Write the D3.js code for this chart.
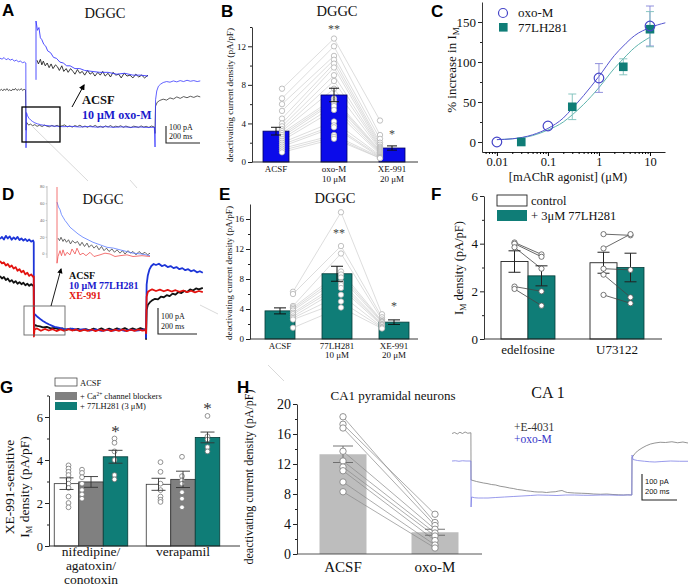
<!DOCTYPE html>
<html><head><meta charset="utf-8">
<script src="https://cdn.jsdelivr.net/npm/d3@7"></script>
<style>
body{margin:0;background:#fff}
svg{display:block}
text{font-family:"Liberation Serif","Times New Roman",serif;fill:#111}
.plabel{font-family:"Liberation Sans",Arial,sans-serif;font-weight:bold;font-size:17px;fill:#000}
.sans{font-family:"Liberation Sans",Arial,sans-serif}
</style></head><body>
<svg id="fig" width="688" height="588"></svg>
<script>
// ---------------- DATA ----------------
// Panel B (DGGC, oxo-M)
const B_categories = ["ACSF", "oxo-M", "XE-991"];
const B_sublabels = ["", "10 μM", "20 μM"];
const B_means = [3.2, 6.95, 1.45];
const B_sem = [0.4, 0.7, 0.22];
const B_acsf = [7.6, 6.6, 6.0, 5.3, 4.5, 4.0, 3.7, 3.4, 3.2, 3.0, 2.8, 2.6, 2.4, 2.2, 2.0, 1.8, 1.6, 1.4, 1.2, 1.0];
const B_oxo  = [12.8, 12.0, 11.0, 10.6, 10.2, 9.8, 9.0, 8.4, 7.6, 6.6, 6.4, 6.2, 5.8, 5.4, 4.2, 3.8, 3.6, 2.8, 2.6, 2.4];
const B_xe   = [4.3, 2.8, 2.4, 2.0, 1.8, 1.6, 1.5, 1.4, 1.3, 1.2, 1.1, 1.0, 0.9, 0.8, 0.7, 0.6, 0.5, 0.5, 0.4, 0.4];
const B_stars = ["", "**", "*"];
const B_starVals = [null, 13.4, 2.5];

// Panel C (dose-response)
const C_oxo_x = [0.01, 0.1, 1, 10];
const C_oxo_y = [0, 20, 80, 145];
const C_oxo_err = [0, 0, 18, 25];
const C_lh_x = [0.03, 0.3, 3, 10];
const C_lh_y = [0, 44, 94, 141];
const C_lh_err = [0, 16, 10, 22];
const C_fit_x = [0.01, 0.02, 0.05, 0.1, 0.2, 0.3, 0.5, 1, 2, 3, 5, 10, 20];
const C_oxo_fit = [3, 4, 9, 17, 30, 42, 58, 82, 108, 120, 133, 143, 149];
const C_lh_fit = [3, 4, 8, 15, 25, 34, 47, 68, 92, 104, 118, 131];
const C_xticks = [0.01, 0.1, 1, 10];
const C_yticks = [0, 50, 100, 150];

// Panel E (DGGC, 77LH281)
const E_categories = ["ACSF", "77LH281", "XE-991"];
const E_sublabels = ["", "10 μM", "20 μM"];
const E_means = [3.75, 8.7, 2.25];
const E_sem = [0.4, 1.0, 0.3];
const E_acsf = [6.3, 6.0, 4.4, 4.2, 4.0, 3.8, 3.5, 3.3, 3.0, 2.8, 2.6, 1.5];
const E_lh   = [16.9, 12.4, 11.4, 9.0, 8.6, 8.2, 7.6, 7.2, 6.8, 5.9, 5.0, 4.2];
const E_xe   = [3.3, 2.9, 2.6, 2.4, 2.3, 2.2, 2.0, 1.9, 1.8, 1.6, 1.5, 1.4];
const E_stars = ["", "**", "*"];
const E_starVals = [null, 13.6, 3.9];

// Panel F
const F_groups = ["edelfosine", "U73122"];
const F_series = ["control", "+ 3μM 77LH281"];
const F_ctrl_means = [3.25, 3.2];
const F_ctrl_sem = [0.45, 0.44];
const F_lh_means = [2.65, 3.0];
const F_lh_sem = [0.42, 0.6];
const F_ctrl_cells = [[4.05, 4.0, 3.85, 2.2, 2.1], [4.4, 3.8, 2.95, 2.7, 1.85]];
const F_lh_cells = [[3.55, 3.45, 2.95, 2.0, 1.4], [4.35, 4.4, 2.9, 1.75, 1.5]];

// Panel G
const G_groups = ["nifedipine/agatoxin/conotoxin", "verapamil"];
const G_groupLines = [["nifedipine/", "agatoxin/", "conotoxin"], ["verapamil"]];
const G_series = ["ACSF", "+ Ca2+ channel blockers", "+ 77LH281 (3 μM)"];
const G_means = [[2.9, 2.98, 4.15], [2.87, 3.1, 5.05]];
const G_sem = [[0.27, 0.25, 0.3], [0.28, 0.38, 0.25]];
const G_cells = [
  [[3.75, 3.6, 3.45, 3.3, 3.1, 2.9, 2.7, 2.3, 2.0, 1.8], [3.55, 3.4, 3.2, 2.9, 2.6, 2.4, 2.2], [5.0, 4.8, 4.4, 4.0, 3.3, 3.1]],
  [[3.9, 3.45, 2.9, 2.6, 2.3, 2.15, 2.05], [4.15, 3.25, 3.05, 2.9, 2.5, 2.2, 1.8], [6.05, 5.1, 4.95, 4.6, 4.4]]
];
const G_starVals = [5.45, 6.5];

// Panel H
const H_categories = ["ACSF", "oxo-M"];
const H_means = [13.3, 2.9];
const H_sem = [1.1, 0.4];
const H_acsf = [18.3, 17.3, 16.8, 13.7, 12.4, 11.6, 11.1, 9.6, 8.3];
const H_oxo  = [4.2, 5.3, 3.8, 3.3, 2.8, 2.4, 1.8, 1.2, 0.8];

// Traces: [time (ms), current (pA)]
const A_blue = [[0,430],[12,424],[24,434],[36,420],[48,428],[60,418],[72,424],[84,412],[96,418],[108,408],[120,412],[132,402],[144,406],[152,400],[153,-130],[156,90],[162,70],[170,55],[180,44],[192,34],[205,26],[220,20],[240,14],[265,10],[295,7],[330,5],[370,2],[420,4],[470,0],[520,3],[570,-1],[620,2],[670,-2],[720,1],[770,-2],[820,0],[870,-3],[908,-2],[912,-125],[915,170],[922,225],[932,255],[945,268],[960,278],[980,284],[1000,280],[1020,288],[1040,282],[1060,290],[1080,284],[1100,292],[1120,286],[1140,290],[1160,284],[1178,288]];
const A_black = [[0,228],[8,236],[17,226],[25,238],[33,229],[41,240],[50,227],[58,234],[66,225],[75,237],[83,231],[91,241],[100,228],[108,236],[116,230],[125,240],[133,228],[141,236],[150,232],[153,-20],[156,30],[168,12],[180,18],[192,8],[205,15],[218,4],[232,11],[248,3],[262,12],[276,5],[290,1],[305,10],[320,3],[336,11],[350,2],[366,8],[380,13],[396,1],[410,7],[425,-1],[440,9],[455,3],[470,11],[486,0],[500,6],[515,-2],[530,8],[546,2],[560,10],[575,-1],[590,5],[606,-3],[620,7],[636,0],[650,9],[665,-2],[680,5],[696,1],[710,8],[726,-3],[740,6],[756,0],[770,-4],[786,5],[800,2],[816,-3],[830,7],[846,-1],[860,4],[876,-3],[890,6],[908,0],[912,-40],[915,130],[925,155],[940,166],[960,174],[980,168],[1000,182],[1020,175],[1040,188],[1060,179],[1080,190],[1100,183],[1120,192],[1140,185],[1160,194],[1178,188]];
const A_inset_blue = [[0,-3],[0,60],[3,50],[6,53],[9,42],[12,40],[16,35],[20,33],[24,28],[30,26],[36,21],[42,20],[49,16],[56,15],[63,12],[70,12],[80,9],[90,9],[100,7],[115,6],[131,5],[148,5],[166,3],[182,4],[199,2],[215,2],[230,1]];
const A_inset_black = [[2,18],[5,14],[9,19],[12,13],[15,17],[19,12],[23,15],[27,10],[31,14],[35,9],[40,13],[44,11],[48,7],[53,12],[57,6],[62,9],[66,5],[71,9],[76,6],[80,3],[85,8],[90,4],[95,6],[100,2],[106,7],[111,3],[116,5],[121,1],[127,5],[132,2],[137,6],[142,1],[148,4],[153,0],[158,5],[164,2],[170,3],[175,-1],[181,4],[187,1],[193,2],[199,-1],[205,3],[211,0],[217,2],[223,-1],[230,2]];

const D_blue = [[0,350],[10,358],[20,348],[30,362],[40,352],[50,360],[60,347],[70,356],[80,349],[90,358],[100,346],[110,352],[120,344],[130,350],[140,342],[150,348],[160,340],[170,344],[173,338],[174,-20],[176,62],[182,58],[190,52],[200,46],[210,40],[220,35],[235,28],[250,22],[265,17],[280,12],[300,9],[320,5],[340,3],[370,5],[400,0],[430,3],[460,-2],[490,2],[520,-3],[550,1],[580,-2],[610,2],[640,-3],[670,1],[700,-2],[730,1],[748,0],[749,-30],[752,175],[758,210],[766,232],[776,246],[788,254],[800,250],[815,255],[830,246],[845,250],[860,242],[875,246],[890,238],[905,242],[920,234],[935,238],[950,230],[965,234],[980,226],[995,230],[1010,222],[1025,226],[1040,220]];
const D_black = [[0,208],[10,198],[20,204],[30,192],[40,198],[50,186],[60,192],[70,182],[80,188],[90,178],[100,184],[110,176],[120,182],[130,172],[140,178],[150,170],[160,176],[170,170],[173,172],[174,-15],[177,20],[190,16],[205,14],[220,10],[240,12],[260,6],[280,8],[300,3],[320,6],[340,0],[360,5],[380,-1],[400,4],[420,-2],[440,3],[460,-1],[480,5],[500,0],[520,6],[540,-1],[560,5],[580,0],[600,6],[620,1],[640,7],[660,0],[680,6],[700,1],[720,7],[740,2],[748,3],[749,-35],[752,78],[758,96],[768,106],[780,114],[795,120],[810,118],[825,128],[840,126],[855,134],[870,130],[885,140],[900,136],[915,146],[930,142],[945,150],[960,146],[975,156],[990,152],[1005,160],[1020,156],[1040,162]];
const D_red = [[0,265],[10,256],[20,260],[30,248],[40,254],[50,242],[60,248],[70,236],[80,242],[90,228],[100,234],[110,222],[120,228],[130,214],[140,220],[150,208],[160,214],[170,204],[173,206],[174,-25],[177,2],[190,6],[210,-3],[230,4],[250,-2],[270,3],[290,-4],[310,2],[330,-3],[350,3],[370,-2],[390,2],[410,-4],[430,1],[450,-3],[470,2],[490,-4],[510,1],[530,-3],[550,2],[570,-4],[590,1],[610,-3],[630,2],[650,-4],[670,1],[690,-3],[710,2],[730,-2],[748,0],[749,-12],[752,128],[758,146],[768,152],[780,156],[800,150],[820,155],[840,149],[860,154],[880,148],[900,153],[920,147],[940,152],[960,146],[980,151],[1000,145],[1020,150],[1040,146]];
const D_inset_blue = [[0,62],[3,56],[6,53],[9,47],[12,44],[16,40],[20,37],[26,32],[32,29],[42,24],[52,20],[62,17],[72,14],[86,11],[100,8],[113,7],[126,5],[139,3],[152,1],[169,0],[186,-2]];
const D_inset_black = [[2,19],[5,16],[8,20],[12,15],[15,18],[19,14],[23,17],[27,12],[31,16],[36,13],[41,15],[46,10],[50,14],[55,9],[60,13],[64,8],[69,11],[74,7],[79,10],[84,5],[89,9],[94,4],[99,7],[104,3],[110,6],[115,2],[120,5],[126,1],[131,4],[136,0],[142,4],[147,1],[152,3],[158,-1],[164,3],[170,0],[176,2],[181,-1],[186,1]];
const D_inset_red = [[0,80],[0,-11],[2,-3],[6,4],[9,-2],[12,5],[16,-2],[20,2],[26,-1],[30,6],[36,0],[40,7],[46,-1],[52,1],[58,-2],[66,2],[74,-3],[86,-1],[96,1],[106,0],[116,-3],[126,-2],[140,-1],[152,-3],[170,-2],[186,-3]];
const D_inset_ticks = [0, 20, 40, 60, 80];

const CA1_gray = [[0,246],[15,250],[30,244],[45,251],[60,246],[75,252],[90,247],[108,249],[109,60],[120,58],[140,54],[160,51],[180,48],[200,46],[225,42],[250,40],[275,35],[303,32],[330,28],[350,26],[375,22],[400,20],[425,17],[450,15],[470,13],[491,12],[515,12],[540,10],[565,12],[590,13],[610,16],[629,18],[645,13],[660,10],[680,9],[700,8],[740,7],[777,6],[810,4],[850,3],[885,4],[920,2],[950,1],[980,0],[1005,1],[1028,0],[1029,150],[1045,165],[1060,176],[1086,188],[1110,197],[1135,204],[1160,208],[1190,211],[1220,210],[1257,213],[1290,209],[1320,212],[1349,208]];
const CA1_blue = [[0,136],[20,137],[40,135],[60,137],[80,136],[108,136],[109,-48],[112,-8],[130,-11],[150,-12],[180,-12],[206,-12],[250,-10],[300,-8],[350,-6],[400,-4],[450,-2],[491,0],[550,-1],[600,-2],[650,0],[700,0],[750,-1],[800,-1],[850,0],[900,0],[950,-1],[1000,0],[1028,0],[1029,160],[1035,142],[1060,138],[1100,135],[1130,133],[1160,132],[1200,134],[1250,136],[1300,135],[1349,135]];

// ---------------- DRAWING ----------------
const svg = d3.select("#fig");
const TEAL = "#0f7d77", BLUE = "#0b0bea", GRAY_PT = "#a8a8a8";
const defs = svg.append("defs");
defs.append("marker").attr("id","arr").attr("viewBox","0 0 10 10").attr("refX",8).attr("refY",5)
  .attr("markerWidth",6).attr("markerHeight",6).attr("orient","auto")
  .append("path").attr("d","M0,0L10,5L0,10z").attr("fill","#000");

function yAxis(g, scale, xPos, majors, minors, fs, fmt) {
  const a = g.append("g").attr("transform", `translate(${xPos},0)`)
    .call(d3.axisLeft(scale).tickValues(majors).tickSize(4).tickSizeOuter(0).tickPadding(2).tickFormat(fmt || d3.format("d")));
  a.select(".domain").attr("stroke", "#222").attr("stroke-width", 0.9);
  a.selectAll(".tick line").attr("stroke", "#222");
  a.selectAll("text").style("font-size", fs + "px").style("font-family", '"Liberation Serif",serif').attr("fill", "#111");
  if (minors) {
    const m = g.append("g").attr("transform", `translate(${xPos},0)`)
      .call(d3.axisLeft(scale).tickValues(minors).tickSize(2).tickFormat(""));
    m.select(".domain").remove();
    m.selectAll(".tick line").attr("stroke", "#222");
  }
}
function hline(g, x0, x1, y, col) {
  g.append("line").attr("x1", x0).attr("x2", x1).attr("y1", y).attr("y2", y).attr("stroke", col || "#222").attr("stroke-width", 0.9);
}
function errBar(g, x, y0, y1, cw, col, w) {
  g.append("line").attr("x1", x).attr("x2", x).attr("y1", y0).attr("y2", y1).attr("stroke", col).attr("stroke-width", w || 1);
  [y0, y1].forEach(y => g.append("line").attr("x1", x - cw).attr("x2", x + cw).attr("y1", y).attr("y2", y).attr("stroke", col).attr("stroke-width", w || 1));
}
function trace(g, data, xs, ys, color, w) {
  g.append("path").attr("d", d3.line().x(d => xs(d[0])).y(d => ys(d[1]))(data))
    .attr("fill", "none").attr("stroke", color).attr("stroke-width", w).attr("stroke-linejoin", "round");
}
function txt(g, x, y, s, fs, opts) {
  opts = opts || {};
  const t = g.append("text").attr("x", x).attr("y", y).text(s).style("font-size", fs + "px")
    .attr("text-anchor", opts.anchor || "start");
  if (opts.fill) t.style("fill", opts.fill);
  if (opts.bold) t.style("font-weight", "bold");
  if (opts.cls) t.attr("class", opts.cls);
  return t;
}
function scaleBar(g, x, yTop, yBot, xRight, fs, sans, t1, t2) {
  g.append("path").attr("d", `M${x},${yTop}V${yBot}H${xRight}`).attr("fill", "none").attr("stroke", "#222").attr("stroke-width", 1.1);
  txt(g, x + 3, t1, "100 pA", fs, { cls: sans ? "sans" : "" });
  txt(g, x + 3, t2, "200 ms", fs, { cls: sans ? "sans" : "" });
}
function faint(x1, y1, x2, y2) {
  svg.append("line").attr("x1", x1).attr("y1", y1).attr("x2", x2).attr("y2", y2).attr("stroke", "#cfcfcf").attr("stroke-width", 0.8);
}

// faint connector lines
faint(33, 127, 88, 181); faint(200, 305, 218, 314); faint(268, 365, 284, 381); faint(130, 180, 137, 188);

// panel letters
[["A", 2, 16], ["B", 221, 17], ["C", 431, 17], ["D", 2, 200], ["E", 219, 200], ["F", 431, 200], ["G", 0, 393], ["H", 237, 393]]
  .forEach(d => txt(svg, d[1], d[2], d[0], 17, { cls: "plabel" }));

// ===== Panel A =====
{
  const g = svg.append("g");
  txt(g, 105, 18, "DGGC", 14.5, { anchor: "middle" });
  const xs = d3.scaleLinear().domain([0, 1180]).range([0, 200.6]);
  const ys = d3.scaleLinear().domain([0, 100]).range([127, 111]);
  trace(g, A_black, xs, ys, "#333", 0.8);
  trace(g, A_blue, xs, ys, "#3a3aff", 0.8);
  const xi = d3.scaleLinear().domain([0, 230]).range([36, 148]);
  const yi = d3.scaleLinear().domain([0, 60]).range([77, 21]);
  trace(g, A_inset_black, xi, yi, "#222", 0.9);
  trace(g, A_inset_blue, xi, yi, "#3a3aff", 0.9);
  g.append("rect").attr("x", 22).attr("y", 107).attr("width", 38).attr("height", 35).attr("fill", "none").attr("stroke", "#000").attr("stroke-width", 1.3);
  g.append("line").attr("x1", 72).attr("y1", 107).attr("x2", 84).attr("y2", 85).attr("stroke", "#000").attr("stroke-width", 1).attr("marker-end", "url(#arr)");
  txt(g, 82, 104, "ACSF", 12.5, { bold: true });
  txt(g, 82, 119, "10 μM oxo-M", 12, { bold: true, fill: "#1a1acc" });
  scaleBar(g, 166, 126, 143, 200, 8, false, 130, 139);
}

// ===== Panel B =====
{
  const g = svg.append("g");
  txt(g, 337, 16, "DGGC", 14.5, { anchor: "middle" });
  const y = d3.scaleLinear().domain([0, 14]).range([162, 27]);
  const x = d3.scalePoint().domain(B_categories).range([276, 392]);
  const bw = 26, offs = [6, 0, -12];
  const cols = [B_acsf, B_oxo, B_xe];
  B_acsf.forEach((_, i) => {
    const pts = cols.map((c, k) => [x(B_categories[k]) + offs[k], y(c[i])]);
    g.append("path").attr("d", d3.line()(pts)).attr("fill", "none").attr("stroke", "#cfcfcf").attr("stroke-width", 0.7);
  });
  B_categories.forEach((c, k) => {
    g.append("rect").attr("x", x(c) - bw / 2).attr("y", y(B_means[k])).attr("width", bw).attr("height", y(0) - y(B_means[k]))
      .attr("fill", BLUE).attr("stroke", "#000060").attr("stroke-width", 0.8);
  });
  cols.forEach((c, k) => c.forEach(v => g.append("circle").attr("cx", x(B_categories[k]) + offs[k]).attr("cy", y(v)).attr("r", 2.7)
    .attr("fill", "#fff").attr("stroke", GRAY_PT).attr("stroke-width", 0.7)));
  B_categories.forEach((c, k) => errBar(g, x(c), y(B_means[k] - B_sem[k]), y(B_means[k] + B_sem[k]), 5, "#111", 1));
  B_categories.forEach((c, k) => {
    txt(g, x(c), 172, c, 9, { anchor: "middle" });
    if (B_sublabels[k]) txt(g, x(c), 182, B_sublabels[k], 9, { anchor: "middle" });
  });
  B_categories.forEach((c, k) => { if (B_stars[k]) txt(g, x(c), y(B_starVals[k]), B_stars[k], 12, { anchor: "middle", fill: "#444" }); });
  hline(g, 252, 418, y(0));
  yAxis(g, y, 252, [0, 4, 8, 12], [2, 6, 10, 14], 9);
  txt(g, 0, 0, "deactivating current density (pA/pF)", 9.2, { anchor: "middle" }).attr("transform", "translate(233,95) rotate(-90)");
}

// ===== Panel C =====
{
  const g = svg.append("g");
  const x = d3.scaleLog().domain([0.0051, 19.7]).range([482, 665]);
  const y = d3.scaleLinear().domain([-12.5, 175]).range([152, 2]);
  const ax = g.append("g").attr("transform", "translate(0,152)")
    .call(d3.axisBottom(x).tickValues(C_xticks).tickSize(4).tickSizeOuter(0).tickPadding(1).tickFormat(d => String(d)));
  ax.select(".domain").attr("stroke", "#222");
  ax.selectAll("text").style("font-size", "12.5px").style("font-family", '"Liberation Serif",serif').attr("fill", "#111");
  const minors = [];
  [0.001, 0.01, 0.1, 1, 10].forEach(dec => [2, 3, 4, 5, 6, 7, 8, 9].forEach(m => { const v = dec * m; if (v > 0.0051 && v < 19.7) minors.push(v); }));
  const mx = g.append("g").attr("transform", "translate(0,152)").call(d3.axisBottom(x).tickValues(minors).tickSize(2).tickFormat(""));
  mx.select(".domain").remove();
  yAxis(g, y, 482, C_yticks, [25, 75, 125], 13);
  const line = d3.line().x(d => x(d[0])).y(d => y(d[1])).curve(d3.curveMonotoneX);
  g.append("path").attr("d", line(C_lh_fit.map((v, i) => [C_fit_x[i], v]))).attr("fill", "none").attr("stroke", "#5fb5ae").attr("stroke-width", 1);
  g.append("path").attr("d", line(C_oxo_fit.map((v, i) => [C_fit_x[i], v]))).attr("fill", "none").attr("stroke", "#5555d0").attr("stroke-width", 1);
  C_oxo_x.forEach((v, i) => { if (C_oxo_err[i]) errBar(g, x(v), y(C_oxo_y[i] - C_oxo_err[i]), y(C_oxo_y[i] + C_oxo_err[i]), 4, "#8484d8", 0.9); });
  C_lh_x.forEach((v, i) => { if (C_lh_err[i]) errBar(g, x(v), y(C_lh_y[i] - C_lh_err[i]), y(C_lh_y[i] + C_lh_err[i]), 4, "#7cc0ba", 0.9); });
  C_lh_x.forEach((v, i) => g.append("rect").attr("x", x(v) - 4.3).attr("y", y(C_lh_y[i]) - 4.3).attr("width", 8.6).attr("height", 8.6).attr("fill", TEAL));
  C_oxo_x.forEach((v, i) => g.append("circle").attr("cx", x(v)).attr("cy", y(C_oxo_y[i])).attr("r", 4.8).attr("fill", "none").attr("stroke", "#4646c8").attr("stroke-width", 1.2));
  g.append("circle").attr("cx", 503).attr("cy", 13).attr("r", 4.5).attr("fill", "none").attr("stroke", "#4646c8").attr("stroke-width", 1.2);
  txt(g, 518, 17, "oxo-M", 13);
  g.append("rect").attr("x", 499).attr("y", 23).attr("width", 8.6).attr("height", 8.6).attr("fill", TEAL);
  txt(g, 518, 32, "77LH281", 13);
  txt(g, 568, 181, "[mAChR agonist] (μM)", 12.5, { anchor: "middle" });
  const yl = txt(g, 0, 0, "% increase in I", 13, { anchor: "middle" }).attr("transform", "translate(456,70) rotate(-90)");
  yl.append("tspan").text("M").attr("dy", 3).style("font-size", "9px");
}

// ===== Panel D =====
{
  const g = svg.append("g");
  txt(g, 103, 204, "DGGC", 14.5, { anchor: "middle" });
  const xs = d3.scaleLinear().domain([0, 1040]).range([0, 202.8]);
  const ys = d3.scaleLinear().domain([0, 100]).range([330, 304]);
  trace(g, D_black, xs, ys, "#111", 1.8);
  trace(g, D_blue, xs, ys, "#1d35d8", 1.8);
  trace(g, D_red, xs, ys, "#e3120f", 1.8);
  const xi = d3.scaleLinear().domain([0, 190]).range([57, 152]);
  const yi = d3.scaleLinear().domain([0, 80]).range([254, 187]);
  g.append("line").attr("x1", 47).attr("x2", 47).attr("y1", 186).attr("y2", 258).attr("stroke", "#999").attr("stroke-width", 0.6);
  D_inset_ticks.forEach(v => {
    g.append("line").attr("x1", 45.5).attr("x2", 47).attr("y1", yi(v)).attr("y2", yi(v)).attr("stroke", "#999").attr("stroke-width", 0.5);
    txt(g, 44.5, yi(v) + 1.3, String(v), 4, { anchor: "end", fill: "#666", cls: "sans" });
  });
  trace(g, D_inset_black, xi, yi, "#444", 0.8);
  trace(g, D_inset_blue, xi, yi, "#5b7bff", 0.8);
  trace(g, D_inset_red, xi, yi, "#f05050", 0.8);
  g.append("rect").attr("x", 24).attr("y", 306).attr("width", 41).attr("height", 29).attr("fill", "none").attr("stroke", "#666").attr("stroke-width", 0.9);
  g.append("line").attr("x1", 51).attr("y1", 306).attr("x2", 61).attr("y2", 269).attr("stroke", "#000").attr("stroke-width", 0.9).attr("marker-end", "url(#arr)");
  txt(g, 69, 279, "ACSF", 10, { bold: true });
  txt(g, 69, 289, "10 μM 77LH281", 10, { bold: true, fill: "#1a1acc" });
  txt(g, 69, 299, "XE-991", 10, { bold: true, fill: "#e3120f" });
  scaleBar(g, 158, 308, 334, 197, 8, false, 319, 329);
}

// ===== Panel E =====
{
  const g = svg.append("g");
  txt(g, 335, 203, "DGGC", 14.5, { anchor: "middle" });
  const y = d3.scaleLinear().domain([0, 18]).range([339, 204]);
  const x = d3.scalePoint().domain(E_categories).range([280, 394]);
  const bw = 30, offs = [13, 4, -12];
  const cols = [E_acsf, E_lh, E_xe];
  E_acsf.forEach((_, i) => {
    const pts = cols.map((c, k) => [x(E_categories[k]) + offs[k], y(c[i])]);
    g.append("path").attr("d", d3.line()(pts)).attr("fill", "none").attr("stroke", "#cfcfcf").attr("stroke-width", 0.7);
  });
  E_categories.forEach((c, k) => g.append("rect").attr("x", x(c) - bw / 2).attr("y", y(E_means[k])).attr("width", bw).attr("height", y(0) - y(E_means[k]))
    .attr("fill", TEAL).attr("stroke", "#043b38").attr("stroke-width", 0.8));
  cols.forEach((c, k) => c.forEach(v => g.append("circle").attr("cx", x(E_categories[k]) + offs[k]).attr("cy", y(v)).attr("r", 2.7)
    .attr("fill", "#fff").attr("stroke", GRAY_PT).attr("stroke-width", 0.7)));
  E_categories.forEach((c, k) => errBar(g, x(c), y(E_means[k] - E_sem[k]), y(E_means[k] + E_sem[k]), 6, "#111", 1));
  E_categories.forEach((c, k) => {
    txt(g, x(c), 349, c, 9, { anchor: "middle" });
    if (E_sublabels[k]) txt(g, x(c), 358, E_sublabels[k], 9, { anchor: "middle" });
  });
  E_categories.forEach((c, k) => { if (E_stars[k]) txt(g, x(c) + (k === 1 ? 2 : 0), y(E_starVals[k]), E_stars[k], 12, { anchor: "middle", fill: "#444" }); });
  hline(g, 250, 418, y(0));
  yAxis(g, y, 250, [0, 4, 8, 12, 16], [2, 6, 10, 14], 9);
  txt(g, 0, 0, "deactivating current density (pA/pF)", 9.2, { anchor: "middle" }).attr("transform", "translate(232,273) rotate(-90)");
}

// ===== Panel F =====
{
  const g = svg.append("g");
  const y = d3.scaleLinear().domain([0, 6]).range([339, 196]);
  const x = d3.scalePoint().domain(F_groups).range([528, 617]);
  const bw = 27;
  F_groups.forEach((grp, i) => {
    const c = x(grp);
    g.append("rect").attr("x", c - bw).attr("y", y(F_ctrl_means[i])).attr("width", bw).attr("height", y(0) - y(F_ctrl_means[i]))
      .attr("fill", "#fff").attr("stroke", "#222").attr("stroke-width", 0.9);
    g.append("rect").attr("x", c).attr("y", y(F_lh_means[i])).attr("width", bw).attr("height", y(0) - y(F_lh_means[i]))
      .attr("fill", TEAL).attr("stroke", "#043b38").attr("stroke-width", 0.8);
    F_ctrl_cells[i].forEach((v, j) => g.append("line").attr("x1", c - bw / 2).attr("y1", y(v)).attr("x2", c + bw / 2).attr("y2", y(F_lh_cells[i][j]))
      .attr("stroke", "#444").attr("stroke-width", 0.8));
    errBar(g, c - bw / 2, y(F_ctrl_means[i] - F_ctrl_sem[i]), y(F_ctrl_means[i] + F_ctrl_sem[i]), 6, "#222", 1);
    errBar(g, c + bw / 2, y(F_lh_means[i] - F_lh_sem[i]), y(F_lh_means[i] + F_lh_sem[i]), 6, "#222", 1);
    F_ctrl_cells[i].forEach(v => g.append("circle").attr("cx", c - bw / 2).attr("cy", y(v)).attr("r", 2.6).attr("fill", "#fff").attr("stroke", "#555").attr("stroke-width", 0.8));
    F_lh_cells[i].forEach(v => g.append("circle").attr("cx", c + bw / 2).attr("cy", y(v)).attr("r", 2.6).attr("fill", "#fff").attr("stroke", "#555").attr("stroke-width", 0.8));
    txt(g, c, 354, grp, 13, { anchor: "middle" });
  });
  hline(g, 484, 662, y(0));
  yAxis(g, y, 484, [0, 2, 4, 6], [1, 3, 5], 13);
  g.append("rect").attr("x", 497).attr("y", 195).attr("width", 30).attr("height", 11).attr("fill", "#fff").attr("stroke", "#222").attr("stroke-width", 0.9);
  txt(g, 531, 205, F_series[0], 12.5);
  g.append("rect").attr("x", 497).attr("y", 210).attr("width", 30).attr("height", 11).attr("fill", TEAL);
  txt(g, 531, 220, F_series[1], 12.5);
  const yl = txt(g, 0, 0, "I", 12.5, { anchor: "middle" }).attr("transform", "translate(463,268) rotate(-90)");
  yl.append("tspan").text("M").attr("dy", 3).style("font-size", "8px");
  yl.append("tspan").text(" density (pA/pF)").attr("dy", -3);
}

// ===== Panel G =====
{
  const g = svg.append("g");
  const y = d3.scaleLinear().domain([0, 7]).range([546, 395.5]);
  const x = d3.scalePoint().domain(G_groups).range([91, 183]);
  const bw = 24.5;
  const fills = ["#fff", "#808080", TEAL];
  const ptOff = [[2, -9, -1], [2, -1, 0]];
  G_groups.forEach((grp, i) => {
    const c = x(grp);
    G_means[i].forEach((m, k) => {
      const bx = c - 1.5 * bw + k * bw;
      g.append("rect").attr("x", bx).attr("y", y(m)).attr("width", bw).attr("height", y(0) - y(m))
        .attr("fill", fills[k]).attr("stroke", k === 2 ? "#043b38" : "#333").attr("stroke-width", 0.8);
    });
    G_means[i].forEach((m, k) => {
      const bc = c - bw + k * bw;
      G_cells[i][k].forEach(v => g.append("circle").attr("cx", bc + ptOff[i][k]).attr("cy", y(v)).attr("r", 2.4)
        .attr("fill", "#fff").attr("stroke", "#777").attr("stroke-width", 0.8));
      errBar(g, bc, y(m - G_sem[i][k]), y(m + G_sem[i][k]), 7, "#333", 0.9);
    });
    txt(g, c + bw, y(G_starVals[i]) + 8, "*", 17, { anchor: "middle", fill: "#333" });
    G_groupLines[i].forEach((s, j) => txt(g, c, 556 + j * 14, s, 13.5, { anchor: "middle" }));
  });
  hline(g, 49, 240, y(0));
  yAxis(g, y, 49, [0, 2, 4, 6], [1, 3, 5, 7], 12.5);
  [[378, "#fff"], [392, "#808080"], [402, TEAL]].forEach((d, k) => g.append("rect").attr("x", 55).attr("y", d[0]).attr("width", 22).attr("height", 8)
    .attr("fill", d[1]).attr("stroke", k === 0 ? "#333" : "none").attr("stroke-width", 0.7));
  txt(g, 80, 386, G_series[0], 8.5);
  const t2 = txt(g, 80, 399, "+ Ca", 8.5);
  t2.append("tspan").text("2+").attr("dy", -3).style("font-size", "5.5px");
  t2.append("tspan").text(" channel blockers").attr("dy", 3);
  txt(g, 80, 409, G_series[2], 8.5);
  txt(g, 0, 0, "XE-991-sensitive", 13.5, { anchor: "middle" }).attr("transform", "translate(14,487) rotate(-90)");
  const yl = txt(g, 0, 0, "I", 13.5, { anchor: "middle" }).attr("transform", "translate(29,487) rotate(-90)");
  yl.append("tspan").text("M").attr("dy", 3).style("font-size", "8.5px");
  yl.append("tspan").text(" density (pA/pF)").attr("dy", -3);
}

// ===== Panel H =====
{
  const g = svg.append("g");
  const y = d3.scaleLinear().domain([0, 20]).range([554, 404]);
  const x = d3.scalePoint().domain(H_categories).range([343, 435]);
  const bw = 47;
  H_categories.forEach((c, k) => g.append("rect").attr("x", x(c) - bw / 2).attr("y", y(H_means[k])).attr("width", bw).attr("height", y(0) - y(H_means[k]))
    .attr("fill", "#bdbdbd"));
  H_acsf.forEach((v, i) => g.append("line").attr("x1", x("ACSF")).attr("y1", y(v)).attr("x2", x("oxo-M")).attr("y2", y(H_oxo[i]))
    .attr("stroke", "#8a8a8a").attr("stroke-width", 0.7));
  H_categories.forEach((c, k) => errBar(g, x(c), y(H_means[k] - H_sem[k]), y(H_means[k] + H_sem[k]), 10, "#666", 0.9));
  [H_acsf, H_oxo].forEach((arr, k) => arr.forEach(v => g.append("circle").attr("cx", x(H_categories[k])).attr("cy", y(v)).attr("r", 3.2)
    .attr("fill", "#fff").attr("stroke", "#777").attr("stroke-width", 0.8)));
  H_categories.forEach(c => txt(g, x(c), 572, c, 15, { anchor: "middle" }));
  hline(g, 297, 482, y(0), "#444");
  yAxis(g, y, 297, [0, 4, 8, 12, 16, 20], [2, 6, 10, 14, 18], 14);
  txt(g, 393, 400, "CA1 pyramidal neurons", 13, { anchor: "middle" });
  txt(g, 0, 0, "deactivating current density (pA/pF)", 12, { anchor: "middle" }).attr("transform", "translate(253,477) rotate(-90)");
}

// ===== CA1 traces =====
{
  const g = svg.append("g");
  txt(g, 548, 398, "CA 1", 16, { anchor: "middle" });
  const xs = d3.scaleLinear().domain([0, 1349]).range([452, 688]);
  const ys = d3.scaleLinear().domain([0, 100]).range([495, 470]);
  trace(g, CA1_gray, xs, ys, "#7a7a7a", 0.8);
  trace(g, CA1_blue, xs, ys, "#7e80e6", 0.8);
  txt(g, 514, 431, "+E-4031", 11.5, { fill: "#333" });
  txt(g, 514, 443, "+oxo-M", 11.5, { fill: "#3535c8" });
  scaleBar(g, 642, 474, 500, 677, 7.5, true, 484, 494);
}
</script></body></html>
